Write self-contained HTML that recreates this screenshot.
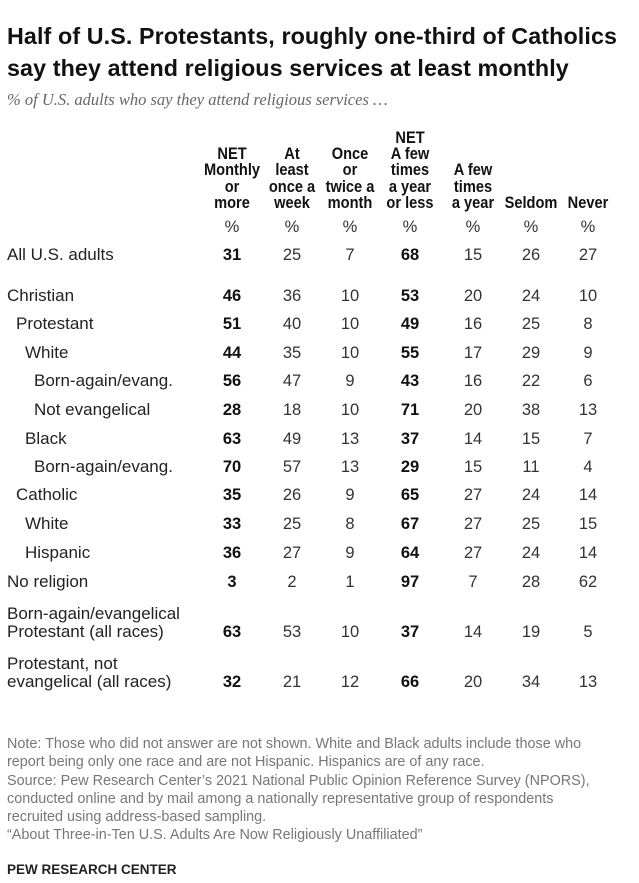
<!DOCTYPE html>
<html><head><meta charset="utf-8"><style>
body{margin:0;width:639px;height:883px;background:#fff;font-family:"Liberation Sans",sans-serif;color:#222;position:relative;overflow:hidden}
.a{position:absolute;white-space:nowrap}
h1{position:absolute;left:7px;top:20px;margin:0;font-size:23.3px;line-height:32px;font-weight:bold;color:#111;font-family:"Liberation Sans",sans-serif;letter-spacing:0.1px}
.sub{left:7px;top:90px;font-family:"Liberation Serif",serif;font-style:italic;font-size:16.5px;color:#666}
.hd{position:absolute;bottom:0;transform:translateX(-50%) scaleX(0.86);text-align:center;font-weight:bold;font-family:"Liberation Sans",sans-serif;font-size:17px;line-height:16.2px;color:#111;white-space:nowrap}
.c{position:absolute;transform:translateX(-50%);font-size:16.5px;color:#333;font-family:"Liberation Sans",sans-serif}
.b{font-weight:bold;color:#111}
.lab{position:absolute;font-size:17px;color:#222;font-family:"Liberation Sans",sans-serif;line-height:18px;white-space:nowrap}
.ft{left:7px;font-size:14.4px;color:#777;line-height:18.3px}
</style></head><body>
<h1>Half of U.S. Protestants, roughly one-third of Catholics<br>say they attend religious services at least monthly</h1>
<div class="a sub">% of U.S. adults who say they attend religious services …</div>
<div id="hdr" style="position:absolute;left:0;top:0;width:639px;height:211px"></div>
<div id="rows"></div>
<div class="a ft" style="top:735px">Note: Those who did not answer are not shown. White and Black adults include those who<br>report being only one race and are not Hispanic. Hispanics are of any race.<br>Source: Pew Research Center’s 2021 National Public Opinion Reference Survey (NPORS),<br>conducted online and by mail among a nationally representative group of respondents<br>recruited using address-based sampling.<br>“About Three-in-Ten U.S. Adults Are Now Religiously Unaffiliated”</div>
<div class="a" style="left:7px;top:862px;font-size:13.5px;font-weight:bold;color:#222">PEW RESEARCH CENTER</div>
<script>
const headers=["NET<br>Monthly<br>or<br>more","At<br>least<br>once a<br>week","Once<br>or<br>twice a<br>month","NET<br>A few<br>times<br>a year<br>or less","A few<br>times<br>a year","Seldom","Never"];
const colX=[232,292,350,410,473,531,588];
const labels=["All U.S. adults","Christian","Protestant","White","Born-again/evang.","Not evangelical","Black","Born-again/evang.","Catholic","White","Hispanic","No religion","Born-again/evangelical<br>Protestant (all races)","Protestant, not<br>evangelical (all races)"];
const indents=[0,0,1,2,3,3,2,3,1,2,2,0,0,0];
const rowY=[256,297,325,354,382,411,440,468,496,525,554,583,633,683];
const values=[
[31,25,7,68,15,26,27],[46,36,10,53,20,24,10],[51,40,10,49,16,25,8],[44,35,10,55,17,29,9],
[56,47,9,43,16,22,6],[28,18,10,71,20,38,13],[63,49,13,37,14,15,7],[70,57,13,29,15,11,4],
[35,26,9,65,27,24,14],[33,25,8,67,27,25,15],[36,27,9,64,27,24,14],[3,2,1,97,7,28,62],
[63,53,10,37,14,19,5],[32,21,12,66,20,34,13]];
const hdr=document.getElementById('hdr');
const rows=document.getElementById('rows');
headers.forEach((h,i)=>{
 const d=document.createElement('div');d.className='hd';d.style.left=colX[i]+'px';d.innerHTML=h;
 
 
 hdr.appendChild(d);
 const p=document.createElement('div');p.className='c';p.style.left=colX[i]+'px';p.style.top='218px';p.textContent='%';
 
 
 rows.appendChild(p);
});
labels.forEach((l,r)=>{
 const lines=l.split('<br>').length;
 const d=document.createElement('div');d.className='lab';d.style.left=(7+indents[r]*9)+'px';
 d.style.top=(rowY[r]-10-(lines-1)*18)+'px';d.innerHTML=l;
 
 
 rows.appendChild(d);
 values[r].forEach((v,i)=>{
  const c=document.createElement('div');c.className='c'+((i==0||i==3)?' b':'');
  c.style.left=colX[i]+'px';c.style.top=(rowY[r]-10)+'px';c.textContent=v;
  
  
  rows.appendChild(c);
 });
});
</script>
</body></html>
